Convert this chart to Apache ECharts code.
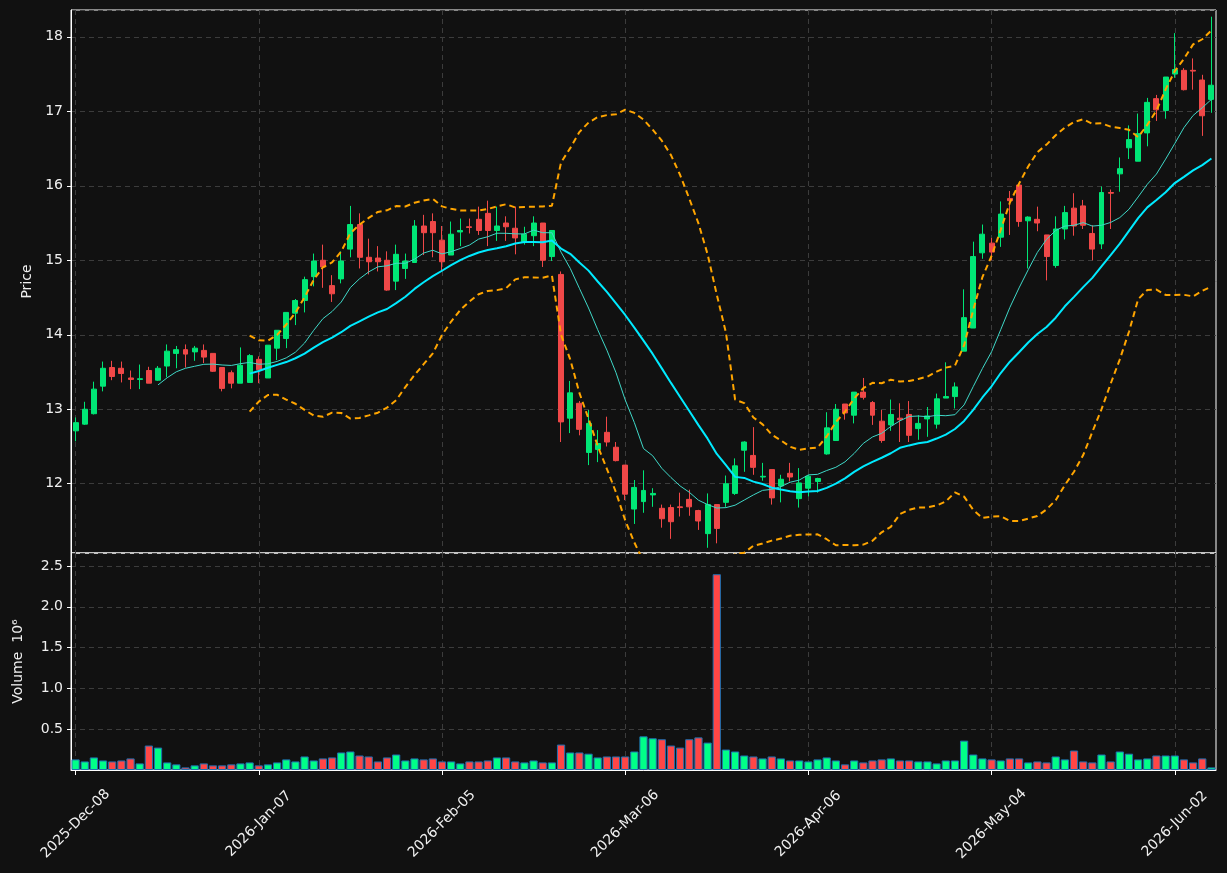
<!DOCTYPE html>
<html>
<head>
<meta charset="utf-8">
<script src="https://cdn.jsdelivr.net/npm/echarts@6/dist/echarts.min.js"></script>
<style>
html,body{margin:0;padding:0;background:#111111;}
#chart{width:1227px;height:873px;}
</style>
</head>
<body>
<div id="chart"></div>
<script>
const dates = [
"2025-12-08","2025-12-09","2025-12-10","2025-12-11","2025-12-12","2025-12-15","2025-12-16","2025-12-17","2025-12-18","2025-12-19",
"2025-12-22","2025-12-23","2025-12-24","2025-12-26","2025-12-29","2025-12-30","2025-12-31","2026-01-02","2026-01-05","2026-01-06",
"2026-01-07","2026-01-08","2026-01-09","2026-01-12","2026-01-13","2026-01-14","2026-01-15","2026-01-16","2026-01-20","2026-01-21",
"2026-01-22","2026-01-23","2026-01-26","2026-01-27","2026-01-28","2026-01-29","2026-01-30","2026-02-02","2026-02-03","2026-02-04",
"2026-02-05","2026-02-06","2026-02-09","2026-02-10","2026-02-11","2026-02-12","2026-02-13","2026-02-17","2026-02-18","2026-02-19",
"2026-02-20","2026-02-23","2026-02-24","2026-02-25","2026-02-26","2026-02-27","2026-03-02","2026-03-03","2026-03-04","2026-03-05",
"2026-03-06","2026-03-09","2026-03-10","2026-03-11","2026-03-12","2026-03-13","2026-03-16","2026-03-17","2026-03-18","2026-03-19",
"2026-03-20","2026-03-23","2026-03-24","2026-03-25","2026-03-26","2026-03-27","2026-03-30","2026-03-31","2026-04-01","2026-04-02",
"2026-04-06","2026-04-07","2026-04-08","2026-04-09","2026-04-10","2026-04-13","2026-04-14","2026-04-15","2026-04-16","2026-04-17",
"2026-04-20","2026-04-21","2026-04-22","2026-04-23","2026-04-24","2026-04-27","2026-04-28","2026-04-29","2026-04-30","2026-05-01",
"2026-05-04","2026-05-05","2026-05-06","2026-05-07","2026-05-08","2026-05-11","2026-05-12","2026-05-13","2026-05-14","2026-05-15",
"2026-05-18","2026-05-19","2026-05-20","2026-05-21","2026-05-22","2026-05-26","2026-05-27","2026-05-28","2026-05-29","2026-06-01",
"2026-06-02","2026-06-03","2026-06-04","2026-06-05","2026-06-08"
];

const opens = [
12.71,12.80,12.94,13.31,13.56,13.55,13.42,13.40,13.52,13.39,
13.58,13.75,13.80,13.77,13.79,13.75,13.56,13.49,13.35,13.36,
13.67,13.42,13.82,13.95,14.29,14.46,14.78,15.00,14.66,14.75,
15.15,15.48,15.04,15.03,15.00,14.72,14.89,14.97,15.46,15.52,
15.27,15.07,15.38,15.45,15.55,15.63,15.40,15.50,15.43,15.25,
15.33,15.50,15.05,14.81,12.88,13.08,12.42,12.46,12.69,12.49,
12.25,11.66,11.76,11.85,11.67,11.68,11.69,11.79,11.64,11.33,
11.72,11.75,11.87,12.45,12.38,12.09,12.19,11.97,12.14,11.80,
11.94,12.03,12.40,12.58,13.07,12.92,13.23,13.09,12.84,12.79,
12.88,12.93,12.74,12.87,12.80,13.15,13.17,13.78,14.09,15.10,
15.23,15.31,15.83,16.01,15.53,15.55,15.34,14.93,15.42,15.70,
15.73,15.36,15.22,15.91,16.16,16.51,16.33,16.71,17.17,17.01,
17.50,17.55,17.55,17.42,17.16
];
const highs = [
12.89,13.10,13.37,13.64,13.65,13.64,13.52,13.60,13.57,13.58,
13.87,13.85,13.87,13.85,13.87,13.75,13.56,13.52,13.83,13.74,
13.71,13.86,14.06,14.30,14.48,14.78,15.09,15.21,14.80,15.12,
15.73,15.63,15.29,15.19,15.12,15.21,15.09,15.54,15.61,15.63,
15.46,15.52,15.56,15.56,15.72,15.80,15.72,15.59,15.72,15.45,
15.59,15.50,15.40,14.85,13.38,13.11,12.99,12.72,12.90,12.56,
12.25,12.05,12.18,11.94,11.72,11.72,11.88,11.92,11.65,11.87,
11.72,12.11,12.34,12.57,12.76,12.28,12.19,12.12,12.28,12.21,
12.12,12.08,12.96,13.07,13.07,13.23,13.42,13.11,12.99,13.13,
13.08,13.11,12.92,13.03,13.21,13.63,13.36,14.61,15.25,15.48,
15.30,15.79,15.93,16.01,15.59,15.72,15.34,15.59,15.73,15.90,
15.81,15.47,15.99,15.95,16.38,16.81,16.97,17.18,17.22,17.46,
18.05,17.58,17.71,17.49,18.27
];
const lows = [
12.57,12.79,12.93,13.24,13.39,13.36,13.27,13.27,13.35,13.38,
13.43,13.55,13.56,13.65,13.62,13.50,13.24,13.28,13.35,13.36,
13.35,13.42,13.66,13.82,14.13,14.30,14.65,14.63,14.44,14.69,
15.04,14.89,14.81,14.85,14.59,14.60,14.75,14.97,15.07,15.04,
14.85,15.07,15.19,15.36,15.34,15.19,15.26,15.26,15.08,15.21,
15.19,14.91,14.99,12.56,12.68,12.65,12.25,12.29,12.50,12.30,
11.78,11.46,11.61,11.69,11.41,11.26,11.56,11.57,11.38,11.14,
11.20,11.69,11.85,12.16,12.12,12.04,11.72,11.75,12.03,11.68,
11.83,11.88,12.39,12.58,12.86,12.81,13.13,12.79,12.55,12.71,
12.56,12.56,12.59,12.63,12.74,13.15,13.01,13.78,14.09,15.02,
15.00,15.18,15.34,15.45,14.89,15.39,14.73,14.90,15.28,15.33,
15.42,15.00,15.15,15.42,15.92,16.36,16.33,16.53,16.87,16.90,
17.45,17.28,17.29,16.67,16.98
];
const closes = [
12.82,13.00,13.27,13.55,13.44,13.48,13.40,13.41,13.35,13.55,
13.78,13.80,13.74,13.82,13.70,13.51,13.28,13.35,13.59,13.72,
13.53,13.86,14.06,14.30,14.46,14.74,14.99,14.91,14.55,14.99,
15.48,15.04,14.98,14.98,14.60,15.08,14.99,15.46,15.37,15.37,
14.98,15.35,15.40,15.44,15.40,15.40,15.46,15.45,15.30,15.35,
15.50,15.00,15.40,12.83,13.22,12.73,12.81,12.54,12.56,12.31,
11.86,11.95,11.91,11.87,11.53,11.49,11.68,11.69,11.50,11.72,
11.40,12.00,12.24,12.56,12.22,12.10,11.81,12.06,12.09,12.01,
12.10,12.07,12.75,13.00,12.95,13.23,13.16,12.92,12.58,12.93,
12.86,12.65,12.81,12.91,13.14,13.17,13.30,14.23,15.05,15.35,
15.11,15.62,15.80,15.52,15.58,15.50,15.05,15.42,15.64,15.46,
15.47,15.15,15.91,15.90,16.23,16.62,16.70,17.12,17.02,17.46,
17.56,17.29,17.54,16.94,17.35
];
// volume in millions of shares
const volumes = [
0.13,0.105,0.154,0.117,0.105,0.117,0.142,0.081,0.30,0.275,
0.093,0.069,0.032,0.057,0.081,0.057,0.057,0.069,0.081,0.093,
0.057,0.069,0.093,0.13,0.105,0.166,0.117,0.142,0.154,0.215,
0.227,0.178,0.166,0.105,0.154,0.19,0.117,0.142,0.13,0.142,
0.105,0.105,0.081,0.105,0.105,0.117,0.154,0.154,0.105,0.093,
0.117,0.093,0.093,0.312,0.215,0.215,0.20,0.154,0.166,0.166,
0.166,0.227,0.413,0.389,0.377,0.30,0.275,0.377,0.40,0.336,
2.40,0.251,0.227,0.178,0.166,0.142,0.166,0.142,0.117,0.117,
0.105,0.13,0.154,0.117,0.069,0.117,0.093,0.117,0.13,0.142,
0.117,0.117,0.105,0.105,0.081,0.117,0.117,0.36,0.19,0.142,
0.13,0.117,0.142,0.142,0.093,0.105,0.093,0.166,0.13,0.239,
0.105,0.093,0.19,0.105,0.227,0.20,0.13,0.142,0.178,0.178,
0.178,0.13,0.093,0.142,0.032
];

const UP = '#00e676', DOWN = '#f04848';
const VUP = '#00ff88', VDOWN = '#ff4646';
const MONTHS = ['Jan','Feb','Mar','Apr','May','Jun','Jul','Aug','Sep','Oct','Nov','Dec'];

function rollingMean(arr, n) {
  return arr.map((v, i) => {
    if (i < n - 1) return '-';
    let s = 0; for (let k = i - n + 1; k <= i; k++) s += arr[k];
    return s / n;
  });
}
function rollingStd(arr, n) {
  return arr.map((v, i) => {
    if (i < n - 1) return '-';
    let s = 0; for (let k = i - n + 1; k <= i; k++) s += arr[k];
    const m = s / n; let q = 0;
    for (let k = i - n + 1; k <= i; k++) q += (arr[k] - m) * (arr[k] - m);
    return Math.sqrt(q / n);
  });
}
const ma10 = rollingMean(closes, 10);
const ma20 = rollingMean(closes, 20);
const sd20 = rollingStd(closes, 20);
const upper = ma20.map((m, i) => m === '-' ? '-' : m + 2 * sd20[i]);
const lower = ma20.map((m, i) => m === '-' ? '-' : m - 2 * sd20[i]);

const candleData = dates.map((d, i) => [opens[i], closes[i], lows[i], highs[i]]);
const volData = volumes.map((v, i) => ({
  value: v,
  itemStyle: { color: closes[i] >= opens[i] ? VUP : VDOWN }
}));

function fmtDate(s) {
  const p = s.split('-');
  return p[0] + '-' + MONTHS[parseInt(p[1], 10) - 1] + '-' + p[2];
}

const FONT = 'DejaVu Sans';
const TXT = '#f0f0f0';
const GRIDC = '#3c3c3c';
const L = 71, W = 1145;

const chart = echarts.init(document.getElementById('chart'), null, { renderer: 'canvas' });
chart.setOption({
  backgroundColor: '#111111',
  animation: false,
  textStyle: { fontFamily: FONT },
  grid: [
    { left: L, top: 10, width: W, height: 543, show: true, borderColor: '#ffffff', borderWidth: 1, backgroundColor: 'transparent' },
    { left: L, top: 553, width: W, height: 217, show: true, borderColor: '#ffffff', borderWidth: 1, backgroundColor: 'transparent' }
  ],
  xAxis: [
    {
      type: 'category', gridIndex: 0, data: dates, boundaryGap: true,
      axisLine: { show: false, onZero: false }, axisTick: { show: false, interval: 19, alignWithLabel: true },
      axisLabel: { show: false, interval: 19 },
      splitLine: { show: true, interval: 19, alignWithLabel: true, lineStyle: { color: GRIDC, type: [5, 4], width: 1 } }
    },
    {
      type: 'category', gridIndex: 1, data: dates, boundaryGap: true,
      axisLine: { show: true, onZero: false, lineStyle: { color: '#ffffff' } },
      axisTick: { show: true, interval: 19, alignWithLabel: true, length: 5, lineStyle: { color: '#ffffff' } },
      axisLabel: { show: true, interval: 19, rotate: 45, align: 'center', verticalAlign: 'middle',
        color: TXT, fontSize: 14, fontFamily: FONT, margin: 54, formatter: fmtDate },
      splitLine: { show: true, interval: 19, alignWithLabel: true, lineStyle: { color: GRIDC, type: [5, 4], width: 1 } }
    }
  ],
  yAxis: [
    {
      type: 'value', gridIndex: 0, min: 11.07, max: 18.36, splitNumber: 7, scale: true,
      name: 'Price', nameLocation: 'middle', nameGap: 37, nameRotate: 90,
      nameTextStyle: { color: TXT, fontSize: 14, fontFamily: FONT },
      axisLine: { show: true, onZero: false, lineStyle: { color: '#ffffff' } },
      axisTick: { show: true, length: 4, lineStyle: { color: '#ffffff' } },
      axisLabel: { color: TXT, fontSize: 14, fontFamily: FONT, margin: 8, showMinLabel: false, showMaxLabel: false,
        formatter: v => Number.isInteger(v) ? String(v) : '' },
      splitLine: { show: true, lineStyle: { color: GRIDC, type: [5, 4], width: 1 } }
    },
    {
      type: 'value', gridIndex: 1, min: 0, max: 2.66, interval: 0.5,
      name: 'Volume  10\u2076', nameLocation: 'middle', nameGap: 46, nameRotate: 90,
      nameTextStyle: { color: TXT, fontSize: 14, fontFamily: FONT },
      axisLine: { show: true, onZero: false, lineStyle: { color: '#ffffff' } },
      axisTick: { show: true, length: 4, lineStyle: { color: '#ffffff' } },
      axisLabel: { color: TXT, fontSize: 14, fontFamily: FONT, margin: 8, showMinLabel: false, showMaxLabel: false,
        formatter: v => (Math.abs(v * 2 - Math.round(v * 2)) < 1e-9) ? v.toFixed(1) : '' },
      splitLine: { show: true, lineStyle: { color: GRIDC, type: [5, 4], width: 1 } }
    }
  ],
  series: [
    {
      type: 'candlestick', xAxisIndex: 0, yAxisIndex: 0, data: candleData, barWidth: '60%',
      itemStyle: { color: UP, color0: DOWN, borderColor: UP, borderColor0: DOWN, borderWidth: 1 }, z: 2
    },
    { type: 'line', xAxisIndex: 0, yAxisIndex: 0, data: ma10, showSymbol: false, smooth: false,
      lineStyle: { color: '#3fd8c8', width: 1 }, z: 3 },
    { type: 'line', xAxisIndex: 0, yAxisIndex: 0, data: ma20, showSymbol: false,
      lineStyle: { color: '#00eaff', width: 2 }, z: 4 },
    { type: 'line', xAxisIndex: 0, yAxisIndex: 0, data: upper, showSymbol: false,
      lineStyle: { color: '#ffa500', width: 2, type: [6, 4] }, z: 4 },
    { type: 'line', xAxisIndex: 0, yAxisIndex: 0, data: lower, showSymbol: false,
      lineStyle: { color: '#ffa500', width: 2, type: [6, 4] }, z: 4 },
    {
      type: 'bar', xAxisIndex: 1, yAxisIndex: 1, data: volData, barWidth: '90%',
      itemStyle: { borderColor: '#1f6fb0', borderWidth: 1 }
    }
  ]
});
</script>
</body>
</html>
